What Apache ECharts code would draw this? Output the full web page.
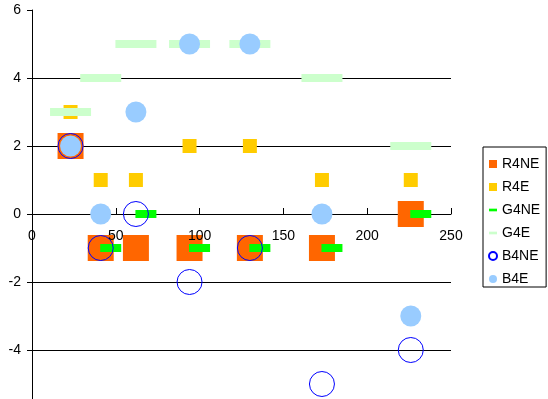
<!DOCTYPE html>
<html>
<head>
<meta charset="utf-8">
<script src="https://cdn.jsdelivr.net/npm/echarts@6/dist/echarts.min.js"></script>
<style>
html, body { margin: 0; padding: 0; background: #fff; }
#chart { width: 548px; height: 399px; }
</style>
</head>
<body>
<div id="chart"></div>
<script>
// x positions shared by all series
var xVals = [23, 41, 62, 94, 130, 173, 226]
var r4ne = [2, -1, -1, -1, -1, -1, 0]
var r4e = [3, 1, 1, 2, 2, 1, 1]
var g4ne = [null, -1, 0, -1, -1, -1, 0]
var g4e = [3, 4, 5, 5, 5, 4, 2]
var b4ne = [2, -1, 0, -2, -1, -5, -4]
var b4e = [2, 0, 3, 5, 5, 0, -3]
var xTicks = [0, 50, 100, 150, 200, 250]
var yTicks = [-6, -4, -2, 0, 2, 4, 6]

function pairs(ys) {
  var arr = []
  for (var i = 0; i < xVals.length; i++) {
    if (ys[i] !== null) arr.push([xVals[i], ys[i]])
  }
  return arr
}

var font = 'Liberation Sans, Arial, sans-serif'
var dash = 'path://M0,0 L6,0 L6,2 L0,2 Z'

var myChart = echarts.init(document.getElementById('chart'))
var option = {
  animation: false,
  backgroundColor: '#fff',
  grid: { left: 32, right: 97, top: 10, bottom: -19, containLabel: false, outerBoundsMode: 'none' },
  legend: {
    orient: 'vertical',
    left: 483,
    top: 147,
    padding: [10, 6, 1, 5],
    borderColor: '#000',
    borderWidth: 1,
    backgroundColor: '#fff',
    itemWidth: 8,
    itemHeight: 8,
    itemGap: 9,
    selectedMode: false,
    textStyle: { color: '#000', fontSize: 14, fontFamily: font, lineHeight: 14 },
    data: [
      { name: 'R4NE', icon: 'rect' },
      { name: 'R4E', icon: 'rect' },
      { name: 'G4NE', icon: dash },
      { name: 'G4E', icon: dash },
      { name: 'B4NE', icon: 'circle' },
      { name: 'B4E', icon: 'circle' }
    ]
  },
  xAxis: [
    {
      type: 'value',
      min: xTicks[0],
      max: xTicks[xTicks.length - 1],
      interval: 50,
      axisLine: { onZero: true, lineStyle: { color: '#000', width: 1 } },
      axisTick: { show: true, inside: true, length: 6, lineStyle: { color: '#000' } },
      axisLabel: { show: false },
      splitLine: { show: false }
    },
    {
      // labels only, sitting just under the zero line, drawn over the marks
      type: 'value',
      position: 'bottom',
      offset: -204,
      z: 5,
      min: xTicks[0],
      max: xTicks[xTicks.length - 1],
      interval: 50,
      axisLine: { show: false, onZero: false },
      axisTick: { show: false },
      axisLabel: { color: '#000', fontSize: 14, fontFamily: font, margin: 15 },
      splitLine: { show: false }
    }
  ],
  yAxis: {
    type: 'value',
    min: yTicks[0],
    max: yTicks[yTicks.length - 1],
    interval: 2,
    axisLine: { show: true, onZero: false, lineStyle: { color: '#000', width: 1 } },
    axisTick: { show: true, length: 5, lineStyle: { color: '#000' } },
    axisLabel: { color: '#000', fontSize: 14, fontFamily: font, margin: 11 },
    splitLine: { show: true, showMaxLine: false, lineStyle: { color: '#000', width: 1 } }
  },
  series: [
    {
      name: 'R4NE', type: 'scatter', symbol: 'rect', symbolSize: 26,
      itemStyle: { color: '#FF6600', opacity: 1 },
      data: pairs(r4ne)
    },
    {
      name: 'R4E', type: 'scatter', symbol: 'rect', symbolSize: 14,
      itemStyle: { color: '#FFCC00', opacity: 1 },
      data: pairs(r4e)
    },
    {
      name: 'G4NE', type: 'scatter', symbol: 'rect', symbolSize: [21, 8], symbolOffset: [10, 0],
      itemStyle: { color: '#00FF00', opacity: 1 },
      data: pairs(g4ne)
    },
    {
      name: 'G4E', type: 'scatter', symbol: 'rect', symbolSize: [41, 8],
      itemStyle: { color: '#CCFFCC', opacity: 1 },
      data: pairs(g4e)
    },
    {
      name: 'B4NE', type: 'scatter', symbol: 'circle', symbolSize: 25,
      itemStyle: { color: 'rgba(0,0,0,0)', borderColor: '#0000FF', borderWidth: 1, opacity: 1 },
      data: pairs(b4ne)
    },
    {
      name: 'B4E', type: 'scatter', symbol: 'circle', symbolSize: 21,
      itemStyle: { color: '#99CCFF', opacity: 1 },
      data: pairs(b4e)
    }
  ]
}
myChart.setOption(option)
</script>
</body>
</html>
